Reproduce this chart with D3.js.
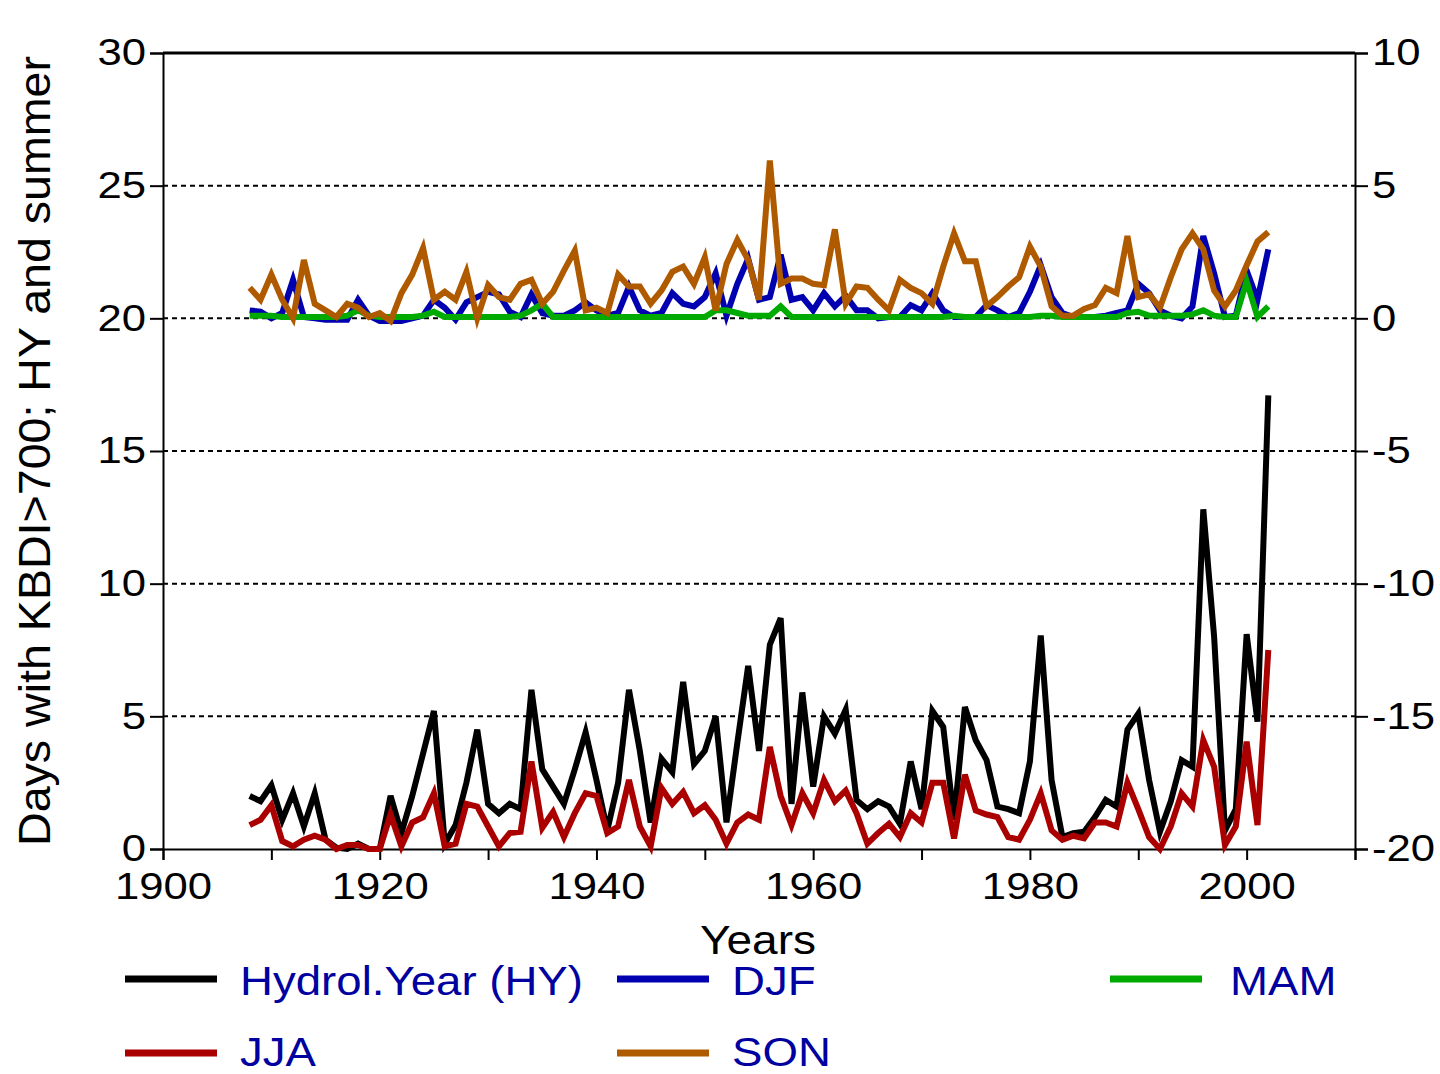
<!DOCTYPE html>
<html>
<head>
<meta charset="utf-8">
<script src="https://cdn.jsdelivr.net/npm/d3@7"></script>
<style>
  html, body { margin: 0; padding: 0; background: #fff; }
  svg { display: block; font-family: "Liberation Sans", Arial, sans-serif; }
</style>
</head>
<body>
<svg id="chart" width="1440" height="1074"></svg>
<script>
// yearly values 1908..2002
const years = d3.range(1908, 2003);

// left axis (days)
const hy = [2.0, 1.8, 2.4, 1.1, 2.1, 0.85, 2.1, 0.35, 0.05, 0.0,
    0.2, 0.0, 0.0, 2.0, 0.6, 2.0, 3.6, 5.2, 0.2, 0.9,
    2.5, 4.5, 1.7, 1.35, 1.7, 1.5, 6.0, 3.0, 2.35, 1.7,
    3.0, 4.4, 2.6, 0.7, 2.5, 6.0, 3.7, 1.0, 3.4, 2.9,
    6.3, 3.2, 3.7, 5.0, 1.0, 4.0, 6.9, 3.7, 7.7, 8.7,
    1.7, 5.9, 2.35, 5.0, 4.35, 5.25, 1.85, 1.5, 1.8, 1.6,
    0.95, 3.3, 1.5, 5.2, 4.6, 1.1, 5.35, 4.1, 3.35, 1.6,
    1.5, 1.35, 3.3, 8.05, 2.6, 0.45, 0.6, 0.65, 1.2, 1.85,
    1.6, 4.5, 5.1, 2.6, 0.65, 1.8, 3.35, 3.1, 12.8, 8.0,
    0.7, 1.5, 8.1, 4.8, 17.1];

const jja = [0.9, 1.1, 1.65, 0.3, 0.1, 0.35, 0.5, 0.35, 0.0, 0.15,
    0.15, 0.0, 0.0, 1.3, 0.1, 1.0, 1.2, 2.1, 0.1, 0.2,
    1.7, 1.6, 0.85, 0.1, 0.6, 0.65, 3.3, 0.8, 1.4, 0.45,
    1.35, 2.1, 2.0, 0.6, 0.85, 2.6, 0.85, 0.1, 2.3, 1.7,
    2.15, 1.35, 1.65, 1.1, 0.2, 1.0, 1.3, 1.1, 3.85, 2.0,
    0.9, 2.1, 1.35, 2.6, 1.8, 2.2, 1.35, 0.2, 0.6, 0.95,
    0.45, 1.35, 1.0, 2.5, 2.5, 0.4, 2.8, 1.45, 1.3, 1.2,
    0.45, 0.35, 1.1, 2.1, 0.7, 0.35, 0.5, 0.4, 1.0, 1.0,
    0.85, 2.5, 1.5, 0.45, 0.0, 0.85, 2.1, 1.6, 4.1, 3.1,
    0.15, 0.85, 4.05, 0.9, 7.5];

// right axis (other seasons)
const djf = [0.3, 0.25, 0.0, 0.2, 1.45, 0.05, 0.0, -0.05, -0.05, -0.05,
    0.7, 0.1, -0.1, -0.1, -0.1, 0.0, 0.1, 0.7, 0.4, -0.05,
    0.6, 0.8, 1.0, 0.9, 0.25, 0.05, 0.9, 0.2, 0.1, 0.1,
    0.3, 0.6, 0.3, 0.1, 0.2, 1.2, 0.3, 0.1, 0.2, 0.95,
    0.55, 0.45, 0.8, 1.7, 0.1, 1.3, 2.25, 0.7, 0.8, 2.4,
    0.7, 0.8, 0.3, 0.95, 0.45, 0.85, 0.3, 0.3, 0.0, 0.05,
    0.05, 0.5, 0.3, 0.95, 0.3, 0.05, 0.05, 0.05, 0.5, 0.3,
    0.05, 0.2, 1.0, 2.0, 0.8, 0.2, 0.05, 0.05, 0.05, 0.1,
    0.2, 0.3, 1.3, 0.95, 0.3, 0.1, 0.0, 0.45, 3.1, 1.7,
    0.05, 0.1, 1.8, 0.7, 2.6];

const mam = [0.1, 0.1, 0.1, 0.05, 0.05, 0.05, 0.05, 0.05, 0.05, 0.1,
    0.3, 0.1, 0.05, 0.05, 0.05, 0.05, 0.1, 0.25, 0.05, 0.05,
    0.05, 0.05, 0.05, 0.05, 0.05, 0.1, 0.3, 0.55, 0.05, 0.05,
    0.05, 0.05, 0.05, 0.05, 0.05, 0.05, 0.05, 0.05, 0.05, 0.05,
    0.05, 0.05, 0.05, 0.3, 0.3, 0.2, 0.1, 0.1, 0.1, 0.45,
    0.05, 0.05, 0.05, 0.05, 0.05, 0.05, 0.05, 0.05, 0.05, 0.05,
    0.05, 0.05, 0.05, 0.05, 0.05, 0.1, 0.05, 0.05, 0.05, 0.05,
    0.05, 0.05, 0.05, 0.1, 0.1, 0.05, 0.05, 0.05, 0.05, 0.05,
    0.05, 0.2, 0.25, 0.1, 0.1, 0.1, 0.1, 0.15, 0.3, 0.1,
    0.05, 0.05, 1.4, 0.05, 0.45];

const son = [1.15, 0.7, 1.65, 0.7, 0.0, 2.2, 0.55, 0.3, 0.05, 0.55,
    0.4, 0.05, 0.2, -0.1, 0.95, 1.65, 2.65, 0.7, 1.0, 0.7,
    1.75, 0.0, 1.25, 0.8, 0.7, 1.3, 1.45, 0.55, 1.0, 1.8,
    2.55, 0.3, 0.4, 0.2, 1.65, 1.2, 1.2, 0.55, 1.05, 1.75,
    1.95, 1.3, 2.3, 0.3, 2.05, 2.95, 2.2, 0.7, 5.95, 1.3,
    1.5, 1.5, 1.3, 1.25, 3.35, 0.55, 1.2, 1.15, 0.7, 0.3,
    1.45, 1.15, 0.95, 0.55, 1.95, 3.2, 2.15, 2.15, 0.45, 0.8,
    1.2, 1.55, 2.7, 1.95, 0.45, 0.1, 0.1, 0.35, 0.5, 1.15,
    0.95, 3.1, 0.8, 0.9, 0.4, 1.55, 2.6, 3.2, 2.6, 1.05,
    0.45, 1.05, 2.0, 2.9, 3.25];

const leftTicks = [0, 5, 10, 15, 20, 25, 30];
const rightTicks = [-20, -15, -10, -5, 0, 5, 10];
const gridTicks = [5, 10, 15, 20, 25];
const xTicks = d3.range(1900, 2011, 10);

const seriesNames = ["Hydrol.Year (HY)", "DJF", "MAM", "JJA", "SON"];

const svg = d3.select("#chart");
const margin = { top: 53, right: 85, bottom: 225, left: 163 };
const width = 1440, height = 1074;
const x0 = margin.left, x1 = width - margin.right;
const y0 = height - margin.bottom, y1 = margin.top;

const x = d3.scaleLinear().domain([1900, 2010]).range([x0, x1]);
const yL = d3.scaleLinear().domain([0, 30]).range([y0, y1]);
const yR = d3.scaleLinear().domain([-20, 10]).range([y0, y1]);

// widen glyphs a little, the original text is drawn wider than Arial
function stretch(sel, k) {
    sel.each(function () {
        const w = this.getComputedTextLength();
        if (w > 0) {
            d3.select(this).attr("textLength", w * k).attr("lengthAdjust", "spacingAndGlyphs");
        }
    });
}

// dotted grid lines
svg.append("g")
    .selectAll("line")
    .data(gridTicks)
    .enter()
    .append("line")
    .attr("x1", x0)
    .attr("x2", x1)
    .attr("y1", d => yL(d))
    .attr("y2", d => yL(d))
    .attr("stroke", "#000")
    .attr("stroke-width", 2)
    .attr("stroke-dasharray", "5,4");

// frame
svg.append("line").attr("x1", x0).attr("x2", x1).attr("y1", y1).attr("y2", y1)
    .attr("stroke", "#000").attr("stroke-width", 3);

const tickFont = 37;

let leftAxis = svg.append("g")
    .attr("transform", `translate(${x0},0)`)
    .call(d3.axisLeft(yL).tickValues(leftTicks).tickSize(13).tickPadding(4).tickFormat(d => String(d)));

let rightAxis = svg.append("g")
    .attr("transform", `translate(${x1},0)`)
    .call(d3.axisRight(yR).tickValues(rightTicks).tickSize(13).tickPadding(4).tickFormat(d => String(d)));

let bottomAxis = svg.append("g")
    .attr("transform", `translate(0,${y0})`)
    .call(d3.axisBottom(x).tickValues(xTicks).tickSize(11).tickPadding(13)
        .tickFormat(d => d % 20 === 0 ? String(d) : ""));

[leftAxis, rightAxis, bottomAxis].forEach(g => {
    g.select(".domain").attr("stroke", "#000").attr("stroke-width", 2);
    g.selectAll(".tick line").attr("stroke", "#000").attr("stroke-width", 2);
    g.selectAll("text")
        .attr("font-family", "Liberation Sans, Arial, sans-serif")
        .attr("font-size", tickFont)
        .attr("fill", "#000");
    g.selectAll("text").call(stretch, 1.18);
});

// data lines
const lineL = d3.line().x((d, i) => x(years[i])).y(d => yL(d));
const lineR = d3.line().x((d, i) => x(years[i])).y(d => yR(d));

const colors = {
    hy: "#000000",
    djf: "#0000b0",
    mam: "#00aa00",
    jja: "#aa0000",
    son: "#b05a00"
};

const drawOrder = [
    { data: hy, line: lineL, color: colors.hy },
    { data: djf, line: lineR, color: colors.djf },
    { data: mam, line: lineR, color: colors.mam },
    { data: jja, line: lineL, color: colors.jja },
    { data: son, line: lineR, color: colors.son }
];

drawOrder.forEach(s => {
    svg.append("path")
        .datum(s.data)
        .attr("fill", "none")
        .attr("stroke", s.color)
        .attr("stroke-width", 6)
        .attr("stroke-linejoin", "miter")
        .attr("d", s.line);
});

// axis titles
svg.append("text")
    .attr("transform", `translate(50,${(y0 + y1) / 2}) rotate(-90)`)
    .attr("text-anchor", "middle")
    .attr("font-size", 44)
    .attr("fill", "#000")
    .text("Days with KBDI>700; HY and summer")
    .attr("textLength", 790)
    .attr("lengthAdjust", "spacingAndGlyphs");

svg.append("text")
    .attr("x", 758)
    .attr("y", 954)
    .attr("text-anchor", "middle")
    .attr("font-size", 40)
    .attr("fill", "#000")
    .text("Years")
    .call(stretch, 1.15);

// legend
const legendColors = [colors.hy, colors.djf, colors.mam, colors.jja, colors.son];
const legendPos = [
    { x: 125, y: 979 }, { x: 617, y: 979 }, { x: 1110, y: 979 },
    { x: 125, y: 1053 }, { x: 617, y: 1053 }
];

let legend = svg.append("g")
    .selectAll("g")
    .data(seriesNames)
    .enter()
    .append("g")
    .attr("transform", (d, i) => `translate(${legendPos[i].x},${legendPos[i].y})`);

legend.append("line")
    .attr("x1", 0)
    .attr("x2", 92)
    .attr("stroke", (d, i) => legendColors[i])
    .attr("stroke-width", 7);

legend.append("text")
    .attr("x", (d, i) => i === 2 ? 120 : 115)
    .attr("y", (d, i) => i >= 3 ? 13 : 16)
    .attr("font-size", 40)
    .attr("fill", "#0000a0")
    .text(d => d)
    .call(stretch, 1.14);
</script>
</body>
</html>
